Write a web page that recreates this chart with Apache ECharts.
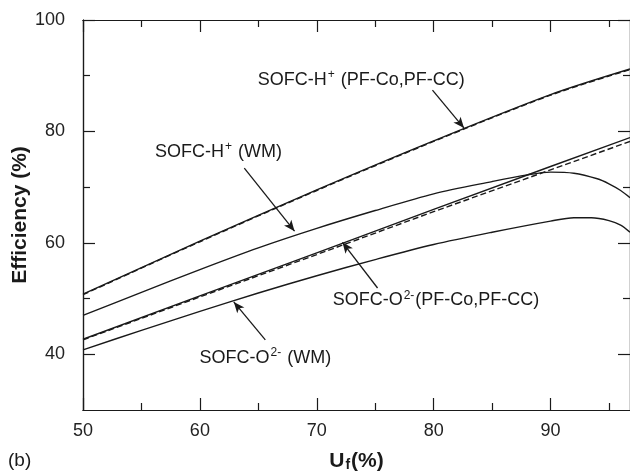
<!DOCTYPE html>
<html>
<head>
<meta charset="utf-8">
<script src="https://cdn.jsdelivr.net/npm/echarts@6/dist/echarts.min.js"></script>
<style>
html,body{margin:0;padding:0;background:#fff}
#chart{width:630px;height:476px}
</style>
</head>
<body>
<div id="chart"></div>
<script>
// fuel utilisation Uf (%) and efficiency (%)
var hPfX = [50, 60, 70, 80, 90, 96.8];
var hPfSolid = [50.8, 60.3, 69.5, 78.3, 86.6, 91.2];
var hPfDashed = [50.7, 60.2, 69.4, 78.2, 86.5, 91.1];

var oPfX = [50, 60, 70, 80, 90, 96.8];
var oPfSolid = [42.7, 50.5, 58.2, 66.0, 73.7, 78.9];
var oPfDashed = [42.6, 50.3, 57.9, 65.6, 73.1, 78.2];

var hWmX = [50, 55, 60, 65, 70, 75, 80, 85, 88, 90, 92, 94, 95, 96, 96.8];
var hWm = [47.0, 51.1, 55.2, 59.1, 62.6, 65.8, 68.8, 71.0, 72.2, 72.7, 72.5, 71.5, 70.6, 69.4, 68.1];

var oWmX = [50, 55, 60, 65, 70, 75, 80, 85, 90, 92, 93.5, 95, 96, 96.8];
var oWm = [40.8, 44.3, 47.7, 51.0, 54.1, 57.0, 59.7, 61.9, 63.9, 64.5, 64.5, 64.0, 63.2, 61.9];

var xMajor = [50, 60, 70, 80, 90];
var xMinor = [55, 65, 75, 85, 95];
var yMajor = [40, 60, 80, 100];
var yMinor = [50, 70, 90];

// annotation text positions and arrows, in data units
var notes = [
  {pos: [73.8, 89.2], text: '{t|SOFC-H}{s|+}{t| (PF-Co,PF-CC)}', from: [79.9, 87.4], to: [82.6, 80.6]},
  {pos: [61.6, 76.3], text: '{t|SOFC-H}{s|+}{t| (WM)}', from: [63.8, 73.4], to: [68.1, 62.1]},
  {pos: [80.2, 49.7], text: '{t|SOFC-O}{s|2-}{t|(PF-Co,PF-CC)}', from: [75.2, 51.9], to: [72.2, 60.1]},
  {pos: [65.6, 39.3], text: '{t|SOFC-O}{s|2-}{t| (WM)}', from: [65.6, 42.6], to: [62.9, 49.4]}
];

function pairs(xs, ys) {
  return xs.map(function (x, i) { return [x, ys[i]]; });
}

var font = '"Liberation Sans", Arial, sans-serif';
var black = '#1a1a1a';

function xAx(pos, ticks, len, labels) {
  return {
    type: 'value', position: pos, min: 50, max: 96.8,
    axisLine: {show: true, lineStyle: {color: black, width: 1.2}},
    axisTick: {show: true, inside: true, length: len, customValues: ticks, lineStyle: {color: black, width: 1.2}},
    axisLabel: {show: labels, customValues: ticks, margin: 12, fontSize: 18, color: '#222', fontFamily: font},
    splitLine: {show: false}
  };
}
function yAx(pos, ticks, len, labels) {
  return {
    type: 'value', position: pos, min: 30, max: 100,
    axisLine: {show: true, lineStyle: {color: black, width: 1.2}},
    axisTick: {show: true, inside: true, length: len, customValues: ticks, lineStyle: {color: black, width: 1.2}},
    axisLabel: {show: labels, customValues: ticks, margin: 18, fontSize: 18, color: '#222', fontFamily: font},
    splitLine: {show: false}
  };
}

var xMain = xAx('bottom', xMajor, 12, true);
xMain.name = '{u|U}{f|f}{u|(%)}';
xMain.nameLocation = 'middle';
xMain.nameGap = 40;
xMain.nameMoveOverlap = false;
xMain.nameTextStyle = {rich: {
  u: {fontSize: 21, fontWeight: 'bold', fontFamily: font, color: black},
  f: {fontSize: 14, fontWeight: 'bold', fontFamily: font, color: black, verticalAlign: 'bottom', padding: [8, 1, 0, 1]}
}};

var yMain = yAx('left', yMajor, 12, true);
yMain.name = 'Efficiency (%)';
yMain.nameLocation = 'middle';
yMain.nameGap = 52;
yMain.nameMoveOverlap = false;
yMain.nameTextStyle = {fontSize: 21, fontWeight: 'bold', fontFamily: font, color: black};

function lineSeries(data, dashed, smooth) {
  return {
    type: 'line', data: data, showSymbol: false, smooth: smooth,
    lineStyle: {color: black, width: 1.4, type: dashed ? [6, 3] : 'solid'},
    silent: true, z: dashed ? 3 : 2
  };
}

var series = [
  lineSeries(pairs(hPfX, hPfSolid), false, 0.3),
  lineSeries(pairs(hPfX, hPfDashed), true, 0.3),
  lineSeries(pairs(oPfX, oPfSolid), false, false),
  lineSeries(pairs(oPfX, oPfDashed), true, false),
  lineSeries(pairs(hWmX, hWm), false, 0.3),
  lineSeries(pairs(oWmX, oWm), false, 0.3)
];

series[0].markPoint = {
  silent: true,
  symbol: 'circle', symbolSize: 0,
  label: {
    show: true, position: 'inside',
    rich: {
      t: {fontSize: 18, fontFamily: font, color: black, lineHeight: 22},
      s: {fontSize: 12, fontFamily: font, color: black, verticalAlign: 'top', padding: [0, 1, 10, 1]}
    }
  },
  data: notes.map(function (n) { return {coord: n.pos, label: {formatter: n.text}}; })
};
series[0].markLine = {
  silent: true, animation: false,
  symbol: ['none', 'arrow'], symbolSize: [7, 11],
  lineStyle: {color: black, width: 1.3, type: 'solid'},
  label: {show: false},
  data: notes.map(function (n) { return [{coord: n.from}, {coord: n.to}]; })
};

var chart = echarts.init(document.getElementById('chart'));
chart.setOption({
  animation: false,
  backgroundColor: '#fff',
  grid: {left: 83, right: 0, top: 20, bottom: 66, containLabel: false, outerBoundsMode: 'none'},
  xAxis: [
    xMain,
    xAx('bottom', xMinor, 7, false),
    xAx('top', xMajor, 12, false),
    xAx('top', xMinor, 7, false)
  ],
  yAxis: [
    yMain,
    yAx('left', yMinor, 7, false),
    yAx('right', [40, 60, 80, 100], 12, false),
    yAx('right', yMinor, 7, false)
  ],
  graphic: [{
    type: 'text', left: 8, top: 451,
    style: {text: '(b)', fontSize: 19, fontFamily: font, fill: black}
  }],
  series: series
});
</script>
</body>
</html>
